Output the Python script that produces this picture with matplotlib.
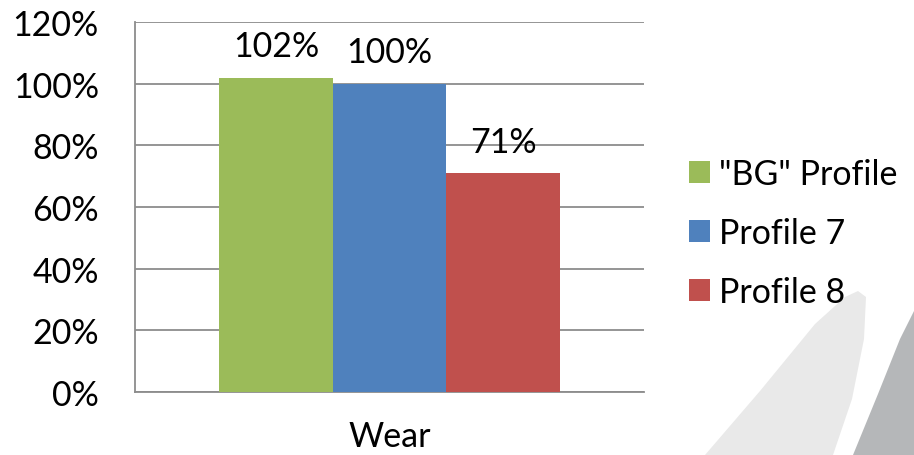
import matplotlib.pyplot as plt
import numpy as np
from matplotlib.patches import Polygon
from matplotlib.ticker import FuncFormatter

categories = ["Wear"]
series = ['"BG" Profile', 'Profile 7', 'Profile 8']
values = [1.02, 1.00, 0.71]
labels = ["102%", "100%", "71%"]
colors = ["#9BBB59", "#4F81BD", "#C0504D"]

plt.rcParams['font.family'] = ['Lato', 'DejaVu Sans']
FS = 24.5

W, H = 914, 456
fig = plt.figure(figsize=(W / 100, H / 100), dpi=100)

# background swoosh decoration (figure pixel coords, y from top)
def px(pts):
    return [(x / W, 1 - y / H) for x, y in pts]

light = px([(705, 456), (760, 392), (815, 325), (845, 298), (858, 292),
            (866, 298), (864, 340), (852, 400), (833, 456)])
dark = px([(853, 456), (878, 395), (900, 340), (914, 312), (914, 456)])
fig.patches.append(Polygon(light, closed=True, transform=fig.transFigure,
                           facecolor="#E9E9E9", edgecolor="none", zorder=0))
fig.patches.append(Polygon(dark, closed=True, transform=fig.transFigure,
                           facecolor="#B5B7B9", edgecolor="none", zorder=0))

ax = fig.add_axes([135 / W, 1 - 393 / H, (644 - 135) / W, (393 - 23) / H])
ax.patch.set_alpha(0)

width = 0.223
x = np.arange(len(categories))
for i, (s, v, lab, c) in enumerate(zip(series, values, labels, colors)):
    ax.bar(x + (i - 1) * width, [v], width, color=c, label=s, zorder=3)
    ax.annotate(lab, (x[0] + (i - 1) * width, v), xytext=(0, 15.5),
                textcoords="offset points", ha="center", va="baseline",
                fontsize=FS)

ax.set_xlim(-0.5, 0.5)
ax.set_ylim(0, 1.2)
ax.set_yticks(np.arange(0, 1.21, 0.2))
ax.yaxis.set_major_formatter(FuncFormatter(lambda v, p: f"{v*100:.0f}%"))
ax.set_xticks(x)
ax.set_xticklabels(categories)
ax.tick_params(axis="y", length=0, pad=26, labelsize=FS)
ax.tick_params(axis="x", length=0, pad=20, labelsize=FS)
ax.grid(axis="y", color="#8C8C8C", linewidth=1.3, zorder=0)
for sp in ["top", "right"]:
    ax.spines[sp].set_visible(False)
for sp in ["left", "bottom"]:
    ax.spines[sp].set_color("#8C8C8C")
    ax.spines[sp].set_linewidth(1.3)

fig.legend(loc="upper left", bbox_to_anchor=(675 / W, 1 - 145 / H),
           frameon=False, fontsize=FS, handlelength=0.62, handleheight=0.62,
           handletextpad=0.28, labelspacing=0.8, borderaxespad=0)

fig.savefig("out.png", dpi=100)
